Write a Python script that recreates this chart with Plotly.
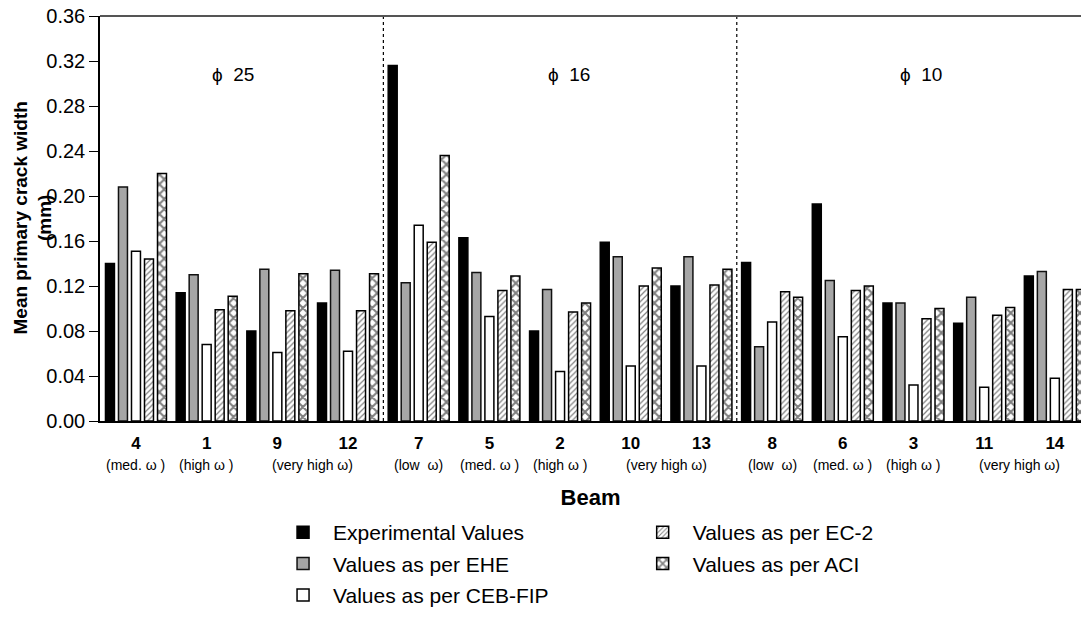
import plotly.graph_objects as go

# ---- data ----
beams = ["4", "1", "9", "12", "7", "5", "2", "10", "13", "8", "6", "3", "11", "14"]
experimental = [0.140, 0.114, 0.080, 0.105, 0.316, 0.163, 0.080, 0.159, 0.120, 0.141, 0.193, 0.105, 0.087, 0.129]
ehe          = [0.208, 0.130, 0.135, 0.134, 0.123, 0.132, 0.117, 0.146, 0.146, 0.066, 0.125, 0.105, 0.110, 0.133]
ceb_fip      = [0.151, 0.068, 0.061, 0.062, 0.174, 0.093, 0.044, 0.049, 0.049, 0.088, 0.075, 0.032, 0.030, 0.038]
ec2          = [0.144, 0.099, 0.098, 0.098, 0.159, 0.116, 0.097, 0.120, 0.121, 0.115, 0.116, 0.091, 0.094, 0.117]
aci          = [0.220, 0.111, 0.131, 0.131, 0.236, 0.129, 0.105, 0.136, 0.135, 0.110, 0.120, 0.100, 0.101, 0.117]

groups = ["ϕ\u00a0 25", "ϕ\u00a0 16", "ϕ\u00a0 10"]
group_sizes = [4, 5, 5]
omega_labels = [
    (["4"], "(med. ω )"), (["1"], "(high ω )"), (["9", "12"], "(very high ω)"),
    (["7"], "(low  ω)"), (["5"], "(med. ω )"), (["2"], "(high ω )"), (["10", "13"], "(very high ω)"),
    (["8"], "(low  ω)"), (["6"], "(med. ω )"), (["3"], "(high ω )"), (["11", "14"], "(very high ω)"),
]
y_ticks = [0.00, 0.04, 0.08, 0.12, 0.16, 0.20, 0.24, 0.28, 0.32, 0.36]

FONT = "Arial, Liberation Sans, sans-serif"

fig = go.Figure()

series = [
    ("Experimental Values", experimental, dict(color="black", line=dict(color="black", width=1.5)), "legend", 1),
    ("Values as per EHE", ehe, dict(color="#a6a6a6", line=dict(color="#111", width=1.5)), "legend", 2),
    ("Values as per CEB-FIP", ceb_fip, dict(color="white", line=dict(color="black", width=1.5)), "legend", 3),
    ("Values as per EC-2", ec2, dict(color="white", line=dict(color="black", width=1.5),
                                     pattern=dict(shape="/", fgcolor="black", bgcolor="white", size=4, solidity=0.3)), "legend2", 4),
    ("Values as per ACI", aci, dict(color="white", line=dict(color="black", width=1.5),
                                    pattern=dict(shape="x", fgcolor="black", bgcolor="white", size=7, solidity=0.5)), "legend2", 5),
]
for name, vals, marker, leg, rank in series:
    fig.add_trace(go.Bar(x=beams, y=vals, name=name, marker=marker, legend=leg,
                         legendgroup=name, legendrank=rank))

# group dividers and group labels (labels nudged slightly off-centre as in the original)
label_nudge = [-0.13, 0.13, 0.11]
start = 0
for gi, (g, n) in enumerate(zip(groups, group_sizes)):
    center = start + (n - 1) / 2 + label_nudge[gi]
    fig.add_annotation(x=center, y=0.308, xref="x", yref="y", text=g, showarrow=False,
                       font=dict(family=FONT, size=19, color="black"))
    if gi < len(groups) - 1:
        b = start + n - 0.5
        fig.add_shape(type="line", x0=b, x1=b, y0=0, y1=1, xref="x", yref="paper",
                      line=dict(color="black", width=1.2, dash="dot"))
    start += n

# omega sub-labels
for members, lab in omega_labels:
    pos = sum(beams.index(m) for m in members) / len(members)
    fig.add_annotation(x=pos, y=-0.1086, xref="x", yref="paper", text=lab, showarrow=False,
                       yanchor="middle", font=dict(family=FONT, size=14, color="black"))

# y-axis title (two lines, overlapping tick labels as in the original)
fig.add_annotation(x=-0.0693, y=0.5, xref="paper", yref="paper", textangle=-90,
                   text="<b>Mean primary crack width<br>(mm)</b>", showarrow=False,
                   xanchor="center", yanchor="middle",
                   font=dict(family=FONT, size=19, color="black"))

# top frame line
fig.add_shape(type="line", x0=0, x1=1, y0=1, y1=1, xref="paper", yref="paper",
              line=dict(color="#555", width=2))

fig.update_layout(
    width=1081, height=617,
    margin=dict(l=100, r=0, t=16, b=196, autoexpand=False),
    paper_bgcolor="white", plot_bgcolor="white",
    barmode="group", bargap=0.08, bargroupgap=0.31,
    font=dict(family=FONT, color="black"),
    legend=dict(x=0.1764, y=-0.225, xanchor="left", yanchor="top", orientation="v", itemwidth=50,
                font=dict(family=FONT, size=21), tracegroupgap=1, bgcolor="rgba(0,0,0,0)"),
    legend2=dict(x=0.543, y=-0.225, xanchor="left", yanchor="top", orientation="v", itemwidth=50,
                 font=dict(family=FONT, size=21), tracegroupgap=1, bgcolor="rgba(0,0,0,0)"),
    xaxis=dict(type="category", range=[-0.509, 13.37], showline=True, linecolor="black", linewidth=1.5,
               ticks="", tickvals=beams, ticktext=[f"<b>{b}</b>" for b in beams], ticklabelstandoff=6,
               tickfont=dict(family=FONT, size=17, color="black"), showgrid=False, zeroline=False,
               automargin=False,
               title=dict(text="<b>Beam</b>", standoff=37, font=dict(family=FONT, size=22, color="black"))),
    yaxis=dict(range=[0, 0.36], tickvals=y_ticks, tickformat=".2f", ticks="outside", ticklen=9,
               tickcolor="black", showline=True, linecolor="black", linewidth=1.5, showgrid=False,
               zeroline=False, automargin=False, tickfont=dict(family=FONT, size=20, color="black")),
)

# remove the browser's default 8px body margin so the figure sits at the page origin
fig.write_html("out.html", config={"displayModeBar": False},
               post_script="document.body.style.margin='0px';")
